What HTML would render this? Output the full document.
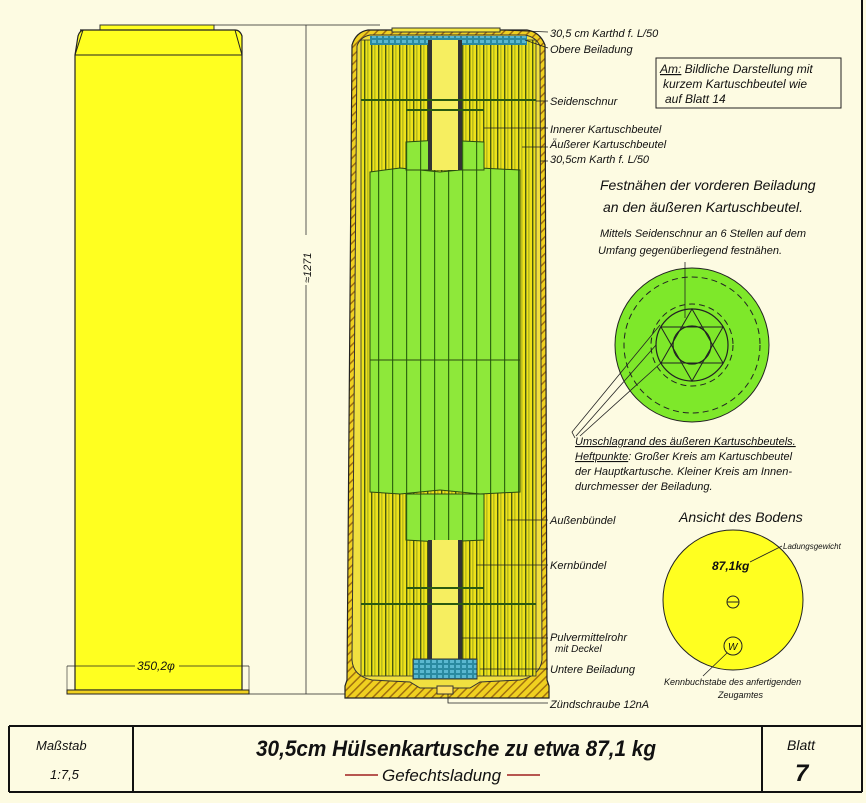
<!DOCTYPE html>
<html><head><meta charset="utf-8"><style>
html,body{margin:0;padding:0;background:#fdfbe2;}
svg{display:block}
text{font-family:"Liberation Sans",sans-serif;font-style:italic;fill:#111;}
</style></head><body>
<svg width="866" height="803" viewBox="0 0 866 803" xmlns="http://www.w3.org/2000/svg">
<defs>
<pattern id="ys" width="7" height="10" patternUnits="userSpaceOnUse">
<rect width="7" height="10" fill="#eee21a"/><rect x="0" width="1.4" height="10" fill="#4a5a10"/><rect x="3.5" width="0.8" height="10" fill="#8a9a20"/>
</pattern>
<pattern id="gs" width="14" height="10" patternUnits="userSpaceOnUse">
<rect width="14" height="10" fill="#8ee83a"/><rect x="0" width="1.2" height="10" fill="#2f6a10"/>
</pattern>
<pattern id="bl" width="6" height="5" patternUnits="userSpaceOnUse">
<rect width="6" height="5" fill="#2a8aa0"/><rect width="4" height="3" fill="#5ab8d0"/>
</pattern>
<pattern id="ht" width="6" height="6" patternUnits="userSpaceOnUse" patternTransform="rotate(45)">
<rect width="6" height="6" fill="#f0d020"/><rect width="1.5" height="6" fill="#a07010"/>
</pattern>
</defs>
<rect width="866" height="803" fill="#fdfbe2"/>
<!-- frame -->
<line x1="862" y1="0" x2="862" y2="792" stroke="#111" stroke-width="2"/>
<line x1="9" y1="726" x2="862" y2="726" stroke="#111" stroke-width="2"/>
<line x1="9" y1="726" x2="9" y2="792" stroke="#111" stroke-width="2"/>
<line x1="9" y1="792" x2="862" y2="792" stroke="#111" stroke-width="2"/>
<line x1="133" y1="726" x2="133" y2="792" stroke="#111" stroke-width="2"/>
<line x1="762" y1="726" x2="762" y2="792" stroke="#111" stroke-width="2"/>
<text x="36" y="750" font-size="13">Maßstab</text>
<text x="50" y="779" font-size="13">1:7,5</text>
<text x="256" y="756" font-size="22" font-weight="bold" textLength="400" lengthAdjust="spacingAndGlyphs">30,5cm Hülsenkartusche zu etwa 87,1 kg</text>
<line x1="345" y1="775" x2="378" y2="775" stroke="#a02020" stroke-width="1.5"/>
<text x="382" y="781" font-size="17" fill="#222">Gefechtsladung</text>
<line x1="507" y1="775" x2="540" y2="775" stroke="#a02020" stroke-width="1.5"/>
<text x="787" y="750" font-size="14">Blatt</text>
<text x="795" y="781" font-size="24" font-weight="bold">7</text>

<!-- left outer view -->
<rect x="100" y="25" width="114" height="5" fill="#ffff20" stroke="#333" stroke-width="1"/>
<path d="M80,30 L235,30 Q240,30 242,36 L242,55 L242,690 L75,690 L75,55 L78,36 Q80,30 84,30 Z" fill="#ffff20" stroke="#222" stroke-width="1.2"/>
<path d="M83,30 L75,55 M235,30 L242,55" stroke="#222" fill="none"/>
<line x1="75" y1="55" x2="242" y2="55" stroke="#222"/>
<rect x="67" y="690" width="182" height="4" fill="#f0d020" stroke="#222"/>
<line x1="67" y1="666" x2="249" y2="666" stroke="#222" stroke-width="0.8"/>
<line x1="67" y1="666" x2="67" y2="690" stroke="#222" stroke-width="0.6"/>
<line x1="249" y1="666" x2="249" y2="690" stroke="#222" stroke-width="0.6"/>
<rect x="135" y="658" width="44" height="14" fill="#ffff20"/>
<text x="137" y="670" font-size="12">350,2φ</text>
<!-- height dim -->
<line x1="214" y1="25" x2="380" y2="25" stroke="#222" stroke-width="0.8"/>
<line x1="249" y1="694" x2="345" y2="694" stroke="#222" stroke-width="0.8"/>
<line x1="306" y1="25" x2="306" y2="694" stroke="#333" stroke-width="0.8"/>
<rect x="300" y="235" width="12" height="50" fill="#fdfbe2"/>
<text transform="translate(311,283) rotate(-90)" font-size="11">≈1271</text>

<!-- cross-section -->
<path d="M352,45 Q356,32 368,30 L527,30 Q540,32 545,45 L547,680 L549,686 L549,698 L345,698 L345,686 L347,680 Z" fill="url(#ht)" stroke="#222" stroke-width="1.2"/>
<path d="M357,46 Q360,37 370,35 L525,35 Q536,37 540,46 L542,660 Q540,676 520,680 L480,682 L470,688 L420,688 L410,682 L372,680 Q353,676 352,660 Z" fill="#f0e040" stroke="#333"/>
<rect x="361" y="40" width="175" height="636" fill="url(#ys)" stroke="#333" stroke-width="0.8"/>
<rect x="370" y="36" width="157" height="9" fill="url(#bl)"/>
<rect x="392" y="28" width="108" height="4" fill="#f5e840" stroke="#333"/>
<!-- green main -->
<path d="M370,172 L400,168 L440,172 L480,168 L520,170 L520,492 L480,494 L440,490 L400,494 L370,492 Z" fill="url(#gs)" stroke="#2a4a10"/>
<line x1="370" y1="360" x2="520" y2="360" stroke="#2a4a10" stroke-width="1"/>
<path d="M406,142 L440,140 L484,142 L484,170 L406,170 Z" fill="url(#gs)" stroke="#2a4a10"/>
<path d="M406,494 L484,494 L484,540 L440,542 L406,540 Z" fill="url(#gs)" stroke="#2a4a10"/>
<!-- central tube -->
<rect x="430" y="40" width="30" height="130" fill="#f6ee60"/>
<rect x="428" y="40" width="4" height="130" fill="#333"/>
<rect x="458" y="40" width="4" height="130" fill="#333"/>
<rect x="430" y="540" width="30" height="120" fill="#f6ee60"/>
<rect x="428" y="540" width="4" height="120" fill="#333"/>
<rect x="458" y="540" width="4" height="120" fill="#333"/>
<rect x="413" y="659" width="64" height="20" fill="url(#bl)" stroke="#333"/>
<line x1="361" y1="100" x2="536" y2="100" stroke="#2a5a10" stroke-width="2"/>
<line x1="406" y1="110" x2="484" y2="110" stroke="#2a5a10" stroke-width="2"/>
<line x1="406" y1="588" x2="484" y2="588" stroke="#2a5a10" stroke-width="2"/>
<line x1="361" y1="604" x2="536" y2="604" stroke="#2a5a10" stroke-width="2"/>
<rect x="437" y="686" width="16" height="8" fill="#ffe060" stroke="#333"/>
<!-- leaders -->
<g stroke="#222" stroke-width="0.8" fill="none">
<line x1="500" y1="30" x2="548" y2="32"/>
<line x1="525" y1="40" x2="548" y2="48"/>
<line x1="536" y1="101" x2="548" y2="101"/>
<line x1="484" y1="128" x2="548" y2="128"/>
<line x1="522" y1="147" x2="548" y2="147"/>
<line x1="540" y1="161" x2="548" y2="161"/>
<line x1="507" y1="520" x2="548" y2="520"/>
<line x1="476" y1="565" x2="548" y2="565"/>
<line x1="462" y1="638" x2="548" y2="638"/>
<line x1="480" y1="669" x2="548" y2="669"/>
<path d="M448,694 L448,703 L548,703"/>
</g>
<g font-size="11">
<text x="550" y="37">30,5 cm Karthd f. L/50</text>
<text x="550" y="53">Obere Beiladung</text>
<text x="550" y="105">Seidenschnur</text>
<text x="550" y="133">Innerer Kartuschbeutel</text>
<text x="550" y="148">Äußerer Kartuschbeutel</text>
<text x="550" y="163">30,5cm Karth f. L/50</text>
<text x="550" y="524">Außenbündel</text>
<text x="550" y="569">Kernbündel</text>
<text x="550" y="641">Pulvermittelrohr</text>
<text x="555" y="652" font-size="10">mit Deckel</text>
<text x="550" y="673">Untere Beiladung</text>
<text x="550" y="708">Zündschraube 12nA</text>
</g>
<rect x="656" y="58" width="185" height="50" fill="none" stroke="#222" stroke-width="1"/>
<g font-size="12">
<text x="660" y="73"><tspan text-decoration="underline">Am:</tspan> Bildliche Darstellung mit</text>
<text x="663" y="88">kurzem Kartuschbeutel wie</text>
<text x="665" y="103">auf Blatt 14</text>
</g>
<text x="600" y="190" font-size="14">Festnähen der vorderen Beiladung</text>
<text x="603" y="212" font-size="14">an den äußeren Kartuschbeutel.</text>
<text x="600" y="237" font-size="11">Mittels Seidenschnur an 6 Stellen auf dem</text>
<text x="598" y="254" font-size="11">Umfang gegenüberliegend festnähen.</text>
<!-- green circle -->
<circle cx="692" cy="345" r="77" fill="#7ee82a" stroke="#222"/>
<circle cx="692" cy="345" r="68" fill="none" stroke="#222" stroke-dasharray="6,4"/>
<circle cx="692" cy="345" r="41" fill="none" stroke="#222" stroke-dasharray="6,4"/>
<circle cx="692" cy="345" r="36" fill="none" stroke="#222" stroke-width="1.2"/>
<circle cx="692" cy="345" r="19" fill="none" stroke="#222" stroke-width="1.2"/>
<polygon points="692,309 723,363 661,363" fill="none" stroke="#222"/>
<polygon points="692,381 723,327 661,327" fill="none" stroke="#222"/>
<line x1="685" y1="262" x2="685" y2="318" stroke="#222" stroke-width="0.8"/>
<g stroke="#222" stroke-width="0.8" fill="none">
<polyline points="660,325 572,432 575,438"/>
<polyline points="656,345 576,436"/>
<polyline points="662,362 580,436"/>
</g>
<g font-size="11">
<text x="575" y="445" text-decoration="underline">Umschlagrand des äußeren Kartuschbeutels.</text>
<text x="575" y="460"><tspan text-decoration="underline">Heftpunkte</tspan>: Großer Kreis am Kartuschbeutel</text>
<text x="575" y="475">der Hauptkartusche. Kleiner Kreis am Innen-</text>
<text x="575" y="490">durchmesser der Beiladung.</text>
</g>
<text x="679" y="522" font-size="14">Ansicht des Bodens</text>
<circle cx="733" cy="600" r="70" fill="#ffff20" stroke="#222"/>
<text x="712" y="570" font-size="12" font-style="normal" font-weight="bold">87,1kg</text>
<line x1="750" y1="562" x2="782" y2="546" stroke="#222" stroke-width="0.8"/>
<text x="783" y="549" font-size="8">Ladungsgewicht</text>
<circle cx="733" cy="602" r="6" fill="none" stroke="#222"/>
<line x1="727" y1="602" x2="739" y2="602" stroke="#222"/>
<circle cx="733" cy="646" r="9" fill="none" stroke="#222"/>
<text x="728" y="650" font-size="10" font-style="normal">W</text>
<line x1="727" y1="653" x2="703" y2="676" stroke="#222" stroke-width="0.8"/>
<text x="664" y="685" font-size="9">Kennbuchstabe des anfertigenden</text>
<text x="718" y="698" font-size="9">Zeugamtes</text>
</svg>
</body></html>
